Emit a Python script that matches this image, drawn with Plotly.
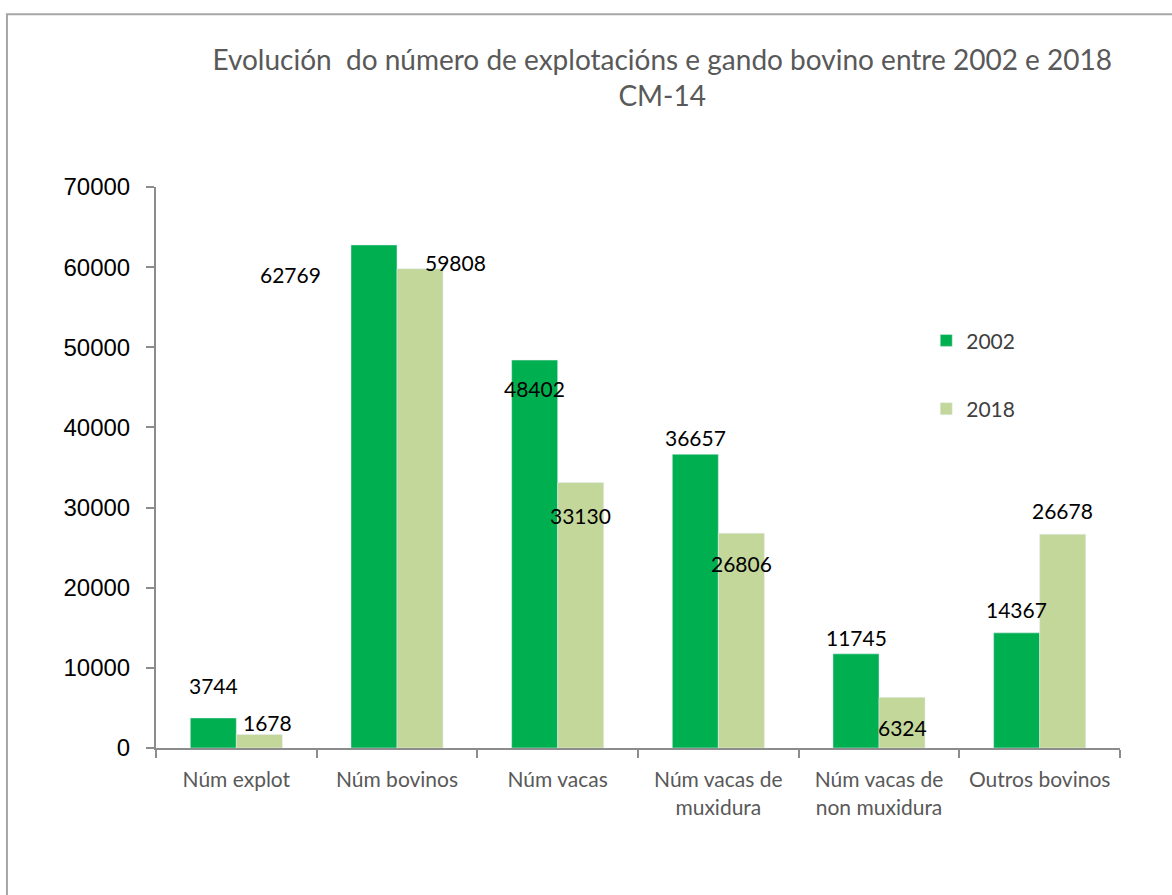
import plotly.graph_objects as go

categories = ["Núm explot", "Núm bovinos", "Núm vacas", "Núm vacas de<br>muxidura",
              "Núm vacas de<br>non muxidura", "Outros bovinos"]
vals_2002 = [3744, 62769, 48402, 36657, 11745, 14367]
vals_2018 = [1678, 59808, 33130, 26806, 6324, 26678]
series_names = ["2002", "2018"]
y_ticks = [0, 10000, 20000, 30000, 40000, 50000, 60000, 70000]
y_ticktext = ["0", "10000", "20000", "30000", "40000", "50000", "60000", "70000"]

# label offsets (pixels) replicating the manually placed labels of the original
offs_2002 = [(0, 32), (-84, -30), (0, -28), (0, 17), (0, 16), (0, 23)]
offs_2018 = [(8, 12), (35, 6), (0, -33), (0, -30), (0, -30), (0, 24)]

c2002 = "#00B050"
c2018 = "#C4D79B"

fig = go.Figure()
fig.add_trace(go.Bar(x=categories, y=vals_2002, name=series_names[0], marker_color=c2002,
                     legendgroup="a"))
fig.add_trace(go.Bar(x=categories, y=vals_2018, name=series_names[1], marker_color=c2018,
                     legendgroup="b"))

lab_font = dict(family="Lato, Open Sans, sans-serif", size=21, color="#000000")
for i, c in enumerate(categories):
    for vals, offs, side in ((vals_2002, offs_2002, -1), (vals_2018, offs_2018, 1)):
        fig.add_annotation(x=c, y=vals[i], xref="x", yref="y", text=str(vals[i]),
                           showarrow=False, font=lab_font,
                           xshift=side * 23 + offs[i][0], yshift=offs[i][1])

fig.add_shape(type="rect", xref="paper", yref="paper", x0=-0.1546, x1=1.2, y0=-0.5, y1=1.308,
              line=dict(color="#A6A6A6", width=2), fillcolor="rgba(0,0,0,0)", layer="below")

fig.update_layout(
    width=1172, height=895,
    margin=dict(l=156, r=52, t=187, b=147, autoexpand=False),
    paper_bgcolor="white", plot_bgcolor="white",
    barmode="group", bargap=0.427, bargroupgap=0,
    title=dict(text="Evolución  do número de explotacións e gando bovino entre 2002 e 2018<br>CM-14",
               x=0.565, xanchor="center", y=0.922, yanchor="top",
               font=dict(family="Lato, Open Sans, sans-serif", size=28, color="#595959")),
    legend=dict(x=0.799, y=0.7625, xanchor="left", yanchor="top", tracegroupgap=38,
                font=dict(family="Lato, sans-serif", size=21, color="#404040"),
                bgcolor="rgba(0,0,0,0)"),
    showlegend=True,
    xaxis=dict(type="category", showline=True, linecolor="#8C8C8C", linewidth=2, automargin=False,
               ticks="outside", tickson="boundaries", ticklen=8, tickcolor="#8C8C8C", tickwidth=2,
               tickfont=dict(family="Lato, Open Sans, sans-serif", size=21, color="#595959"),
               showgrid=False, ticklabelstandoff=12),
    yaxis=dict(range=[0, 70000], tickvals=y_ticks, ticktext=y_ticktext, automargin=False,
               showline=True, linecolor="#8C8C8C", linewidth=2,
               ticks="outside", ticklen=8, tickcolor="#8C8C8C", tickwidth=2,
               tickfont=dict(family="Liberation Sans, Arial, sans-serif", size=24, color="#000000"),
               showgrid=False, zeroline=False, ticklabelstandoff=11),
)

fig.write_html("out.html", config={"displayModeBar": False},
               post_script="document.body.style.margin='0';")
